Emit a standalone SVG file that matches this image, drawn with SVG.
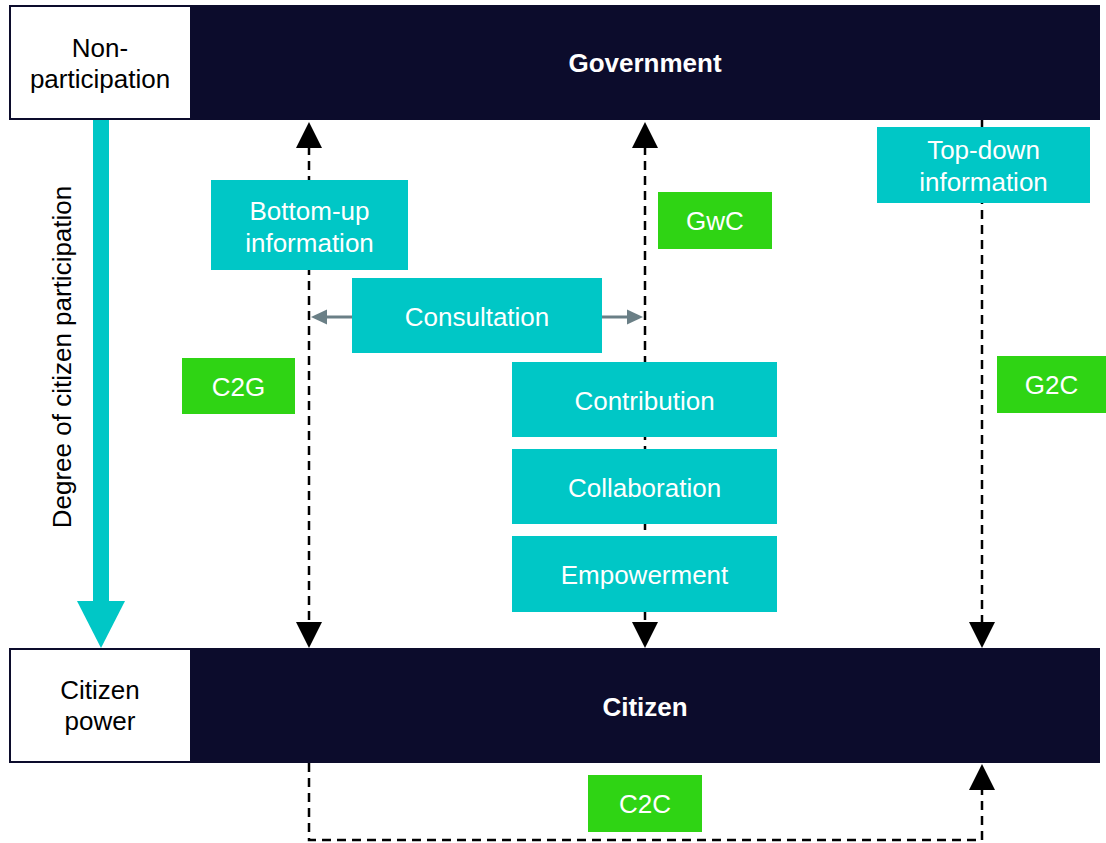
<svg xmlns="http://www.w3.org/2000/svg" width="1106" height="843" viewBox="0 0 1106 843">
<defs>
<style>
text{font-family:"Liberation Sans",Arial,sans-serif;font-size:26px;text-anchor:middle}
.bar{fill:#0c0c2c}
.side{fill:#ffffff}
.dark{fill:#000000}
.w{fill:#ffffff}
.b{font-weight:bold}
.cy{fill:#00c7c6}
.gr{fill:#2fd414}
.dash{fill:none;stroke:#000;stroke-width:2.5;stroke-dasharray:9 6}
.ga{stroke:#6a7f86;stroke-width:3;fill:none}
</style>
</defs>
<rect width="1106" height="843" fill="#ffffff"/>
<g id="government">
<rect class="bar" x="9" y="5" width="1091" height="115"/>
<rect class="side" x="11" y="7" width="179" height="111"/>
<text class="dark" x="100" y="57">Non-</text>
<text class="dark" x="100" y="88">participation</text>
<text class="w b" x="645" y="72">Government</text>
</g>
<g id="citizen">
<rect class="bar" x="9" y="648" width="1091" height="115"/>
<rect class="side" x="11" y="650" width="179" height="111"/>
<text class="dark" x="100" y="699">Citizen</text>
<text class="dark" x="100" y="730">power</text>
<text class="w b" x="645" y="716">Citizen</text>
</g>
<g id="connectors">
<path class="dash" d="M309 146 V624"/>
<path class="dash" d="M645 146 V624"/>
<path class="dash" d="M982 120 V624"/>
<path class="dash" d="M309 763 V840 H982 V789"/>
<polygon points="296,148 322,148 309,122"/>
<polygon points="632,148 658,148 645,122"/>
<polygon points="296,622 322,622 309,648"/>
<polygon points="632,622 658,622 645,648"/>
<polygon points="969,622 995,622 982,648"/>
<polygon points="969,790 995,790 982,764"/>
<path class="ga" d="M352 317 H326"/>
<polygon fill="#6a7f86" points="327,309.5 327,324.5 311,317"/>
<path class="ga" d="M602 317 H628"/>
<polygon fill="#6a7f86" points="627,309.5 627,324.5 643,317"/>
</g>
<g id="degree">
<rect class="cy" x="93" y="120" width="16" height="482"/>
<polygon class="cy" points="77,601 125,601 101,648"/>
<text class="dark" transform="translate(71,357) rotate(-90)">Degree of citizen participation</text>
</g>
<g id="bottom-up">
<rect class="cy" x="211" y="180" width="197" height="90"/>
<text class="w" x="309.5" y="220">Bottom-up</text>
<text class="w" x="309.5" y="252">information</text>
</g>
<g id="top-down">
<rect class="cy" x="877" y="127" width="213" height="76"/>
<text class="w" x="983.5" y="159">Top-down</text>
<text class="w" x="983.5" y="191">information</text>
</g>
<g id="consultation">
<rect class="cy" x="352" y="278" width="250" height="75"/>
<text class="w" x="477" y="326">Consultation</text>
</g>
<g id="contribution">
<rect class="cy" x="512" y="362" width="265" height="75"/>
<text class="w" x="644.5" y="410">Contribution</text>
</g>
<g id="collaboration">
<rect class="cy" x="512" y="449" width="265" height="75"/>
<text class="w" x="644.5" y="497">Collaboration</text>
</g>
<g id="empowerment">
<rect class="cy" x="512" y="536" width="265" height="76"/>
<text class="w" x="644.5" y="584">Empowerment</text>
</g>
<g id="gwc">
<rect class="gr" x="658" y="192" width="114" height="57"/>
<text class="w" x="715" y="230">GwC</text>
</g>
<g id="c2g">
<rect class="gr" x="182" y="358" width="113" height="56"/>
<text class="w" x="238.5" y="396">C2G</text>
</g>
<g id="g2c">
<rect class="gr" x="997" y="356" width="109" height="57"/>
<text class="w" x="1051.5" y="394">G2C</text>
</g>
<g id="c2c">
<rect class="gr" x="588" y="775" width="114" height="57"/>
<text class="w" x="645" y="813">C2C</text>
</g>
</svg>
